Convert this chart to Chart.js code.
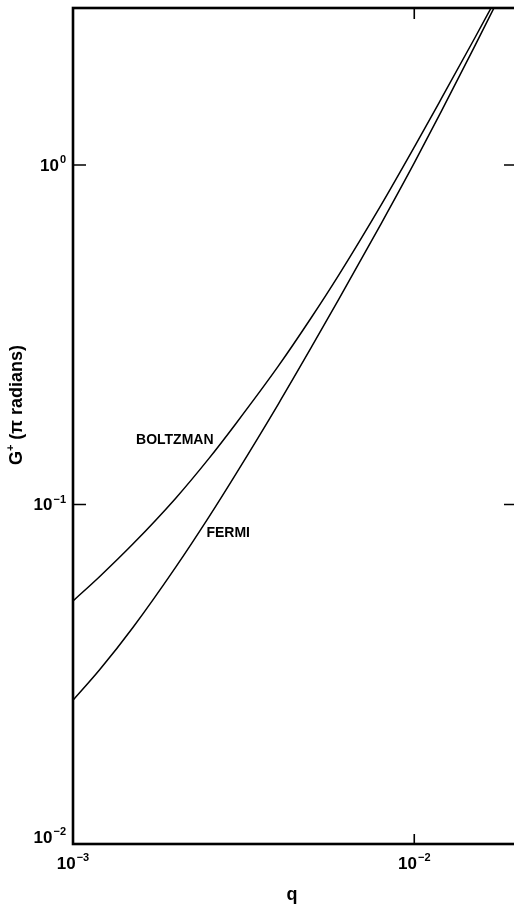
<!DOCTYPE html>
<html>
<head>
<meta charset="utf-8">
<script src="https://cdn.jsdelivr.net/npm/chart.js@4/dist/chart.umd.min.js"></script>
<style>
  html, body { margin: 0; padding: 0; background: #fff; overflow: hidden; }
  #wrap { width: 530px; height: 905px; }
</style>
</head>
<body>
<div id="wrap"><canvas id="c" width="530" height="905"></canvas></div>
<script>
// Phase shift G+ versus q for the two statistics (log-log)
const boltzmanQ = [0.001, 0.0012, 0.0015, 0.002, 0.0025, 0.003, 0.004, 0.005, 0.006, 0.008, 0.01, 0.012, 0.015, 0.0171];
const boltzmanG = [0.052, 0.0615, 0.0766, 0.1044, 0.1365, 0.173, 0.256, 0.356, 0.473, 0.763, 1.129, 1.568, 2.354, 3.0];
const fermiQ = [0.001, 0.0012, 0.0015, 0.002, 0.0025, 0.003, 0.004, 0.005, 0.006, 0.008, 0.01, 0.012, 0.015, 0.0175];
const fermiG = [0.0265, 0.0327, 0.0435, 0.0654, 0.0918, 0.1229, 0.198, 0.291, 0.401, 0.672, 1.014, 1.439, 2.228, 3.03];

// Decade ticks: value and exponent text
const xTickValues = [0.001, 0.01];
const xTickExps = ['\u22123', '\u22122'];
const yTickValues = [0.01, 0.1, 1];
const yTickExps = ['\u22122', '\u22121', '0'];

// Curve labels, placed in data coordinates
const curveLabels = [
  { text: 'BOLTZMAN', q: 0.00153, g: 0.155 },
  { text: 'FERMI', q: 0.00246, g: 0.0824 }
];

const xTitle = 'q';
const yTitleMain = 'G';
const yTitleSup = '+';
const yTitleRest = ' (\u03C0 radians)';

const FONT = '"Liberation Sans", Arial, sans-serif';

function pts(xs, ys) { return xs.map((x, i) => ({ x: x, y: ys[i] })); }

// Draws "10" with a raised exponent; anchor: 'right' or 'center'
function drawPower(ctx, exp, x, yMid, anchor) {
  ctx.font = 'bold 17px ' + FONT;
  const wb = ctx.measureText('10').width;
  ctx.font = 'bold 11px ' + FONT;
  const we = ctx.measureText(exp).width;
  const w = wb + 1 + we;
  const x0 = anchor === 'right' ? x - w : x - w / 2;
  ctx.textAlign = 'left';
  ctx.textBaseline = 'middle';
  ctx.font = 'bold 17px ' + FONT;
  ctx.fillText('10', x0, yMid);
  ctx.font = 'bold 11px ' + FONT;
  ctx.fillText(exp, x0 + wb + 1, yMid - 6);
}

const framePlugin = {
  id: 'frame',
  afterDatasetsDraw(chart) {
    const ctx = chart.ctx;
    const a = chart.chartArea;
    const xs = chart.scales.x, ys = chart.scales.y;
    ctx.save();
    ctx.strokeStyle = '#000';
    ctx.fillStyle = '#000';

    // plot frame
    ctx.lineWidth = 2.6;
    ctx.strokeRect(a.left, a.top, a.right - a.left, a.bottom - a.top);

    // inward tick marks
    ctx.lineWidth = 1.6;
    yTickValues.forEach((v) => {
      const py = ys.getPixelForValue(v);
      if (Math.abs(py - a.bottom) < 2) return;
      ctx.beginPath();
      ctx.moveTo(a.left, py); ctx.lineTo(a.left + 13, py);
      ctx.moveTo(a.right, py); ctx.lineTo(a.right - 13, py);
      ctx.stroke();
    });
    xTickValues.forEach((v) => {
      const px = xs.getPixelForValue(v);
      if (Math.abs(px - a.left) < 2) return;
      ctx.beginPath();
      ctx.moveTo(px, a.bottom); ctx.lineTo(px, a.bottom - 10);
      ctx.moveTo(px, a.top); ctx.lineTo(px, a.top + 11);
      ctx.stroke();
    });

    // tick labels
    yTickValues.forEach((v, i) => {
      const py = ys.getPixelForValue(v);
      const atBottom = Math.abs(py - a.bottom) < 2;
      drawPower(ctx, yTickExps[i], a.left - 7, atBottom ? py - 6 : py + 1, 'right');
    });
    xTickValues.forEach((v, i) => {
      const px = xs.getPixelForValue(v);
      drawPower(ctx, xTickExps[i], px, a.bottom + 20, 'center');
    });

    // curve labels
    ctx.font = 'bold 14px ' + FONT;
    ctx.textAlign = 'left';
    ctx.textBaseline = 'middle';
    curveLabels.forEach((l) => {
      ctx.fillText(l.text, xs.getPixelForValue(l.q), ys.getPixelForValue(l.g));
    });

    // axis titles
    ctx.font = 'bold 18px ' + FONT;
    ctx.textAlign = 'center';
    ctx.textBaseline = 'middle';
    ctx.fillText(xTitle, (a.left + 517) / 2 - 3, a.bottom + 51);

    ctx.translate(17, 405);
    ctx.rotate(-Math.PI / 2);
    ctx.font = 'bold 18px ' + FONT;
    const w1 = ctx.measureText(yTitleMain).width;
    const w3 = ctx.measureText(yTitleRest).width;
    ctx.font = 'bold 11px ' + FONT;
    const w2 = ctx.measureText(yTitleSup).width;
    let x = -(w1 + w2 + w3) / 2;
    ctx.textAlign = 'left';
    ctx.font = 'bold 18px ' + FONT;
    ctx.fillText(yTitleMain, x, 0);
    x += w1;
    ctx.font = 'bold 11px ' + FONT;
    ctx.fillText(yTitleSup, x, -6);
    x += w2;
    ctx.font = 'bold 18px ' + FONT;
    ctx.fillText(yTitleRest, x, 0);
    ctx.restore();
  }
};

new Chart(document.getElementById('c'), {
  type: 'line',
  data: {
    datasets: [
      { label: 'BOLTZMAN', data: pts(boltzmanQ, boltzmanG) },
      { label: 'FERMI', data: pts(fermiQ, fermiG) }
    ]
  },
  options: {
    responsive: false,
    animation: false,
    devicePixelRatio: 1,
    layout: { padding: { left: 73, top: 8, right: 13, bottom: 61 } },
    elements: {
      line: { borderColor: '#000', borderWidth: 1.5, cubicInterpolationMode: 'monotone', fill: false },
      point: { radius: 0, hoverRadius: 0 }
    },
    scales: {
      x: { type: 'logarithmic', min: 0.001, max: 0.02, display: false },
      y: { type: 'logarithmic', min: 0.01, max: 2.9, display: false }
    },
    plugins: { legend: { display: false }, tooltip: { enabled: false } }
  },
  plugins: [framePlugin]
});
</script>
</body>
</html>
